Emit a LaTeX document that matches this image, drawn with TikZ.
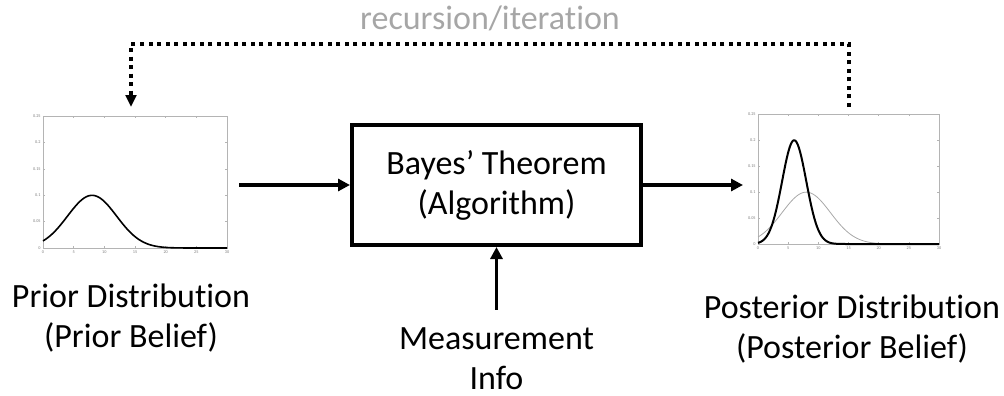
\documentclass[tikz,border=0pt]{standalone}
\usepackage{fontspec}
\setmainfont{Carlito}[Ligatures={NoCommon}]
\usetikzlibrary{arrows.meta}
\definecolor{recgray}{HTML}{A6A6A6}
\definecolor{axgray}{HTML}{B4B4B4}
\definecolor{tickgray}{HTML}{7F7F7F}
\definecolor{curvegray}{HTML}{A8A8A8}
\tikzset{
  lbl/.style={font=\fontsize{25.5pt}{30pt}\selectfont, align=center, inner sep=0pt},
  ticklbl/.style={font=\fontsize{3.2pt}{3.6pt}\selectfont, text=tickgray, inner sep=0.6pt},
  arr/.style={line width=2.4pt, -{Triangle[length=9pt,width=9pt]}},
  loopline/.style={line width=3pt, dash pattern=on 3pt off 3.4pt, line cap=butt,
    -{Triangle[length=9pt,width=8pt]}},
  bayesbox/.style={draw, line width=3pt, minimum width=216.75pt, minimum height=90pt,
    font=\fontsize{25.5pt}{30pt}\selectfont, align=center, inner sep=0pt},
  figarea/.style={inner sep=0pt, outer sep=0pt},
  axisframe/.style={axgray, line width=0.4pt},
  axistick/.style={axgray, line width=0.3pt},
}
\newcommand\plotframe[1]{%
  \draw[axisframe] (0,0) rectangle (30,0.25);
  \foreach \t [count=\i] in {0,5,...,30}{%
    \draw[axistick] (\t,0) -- ++(0,1.5pt) (\t,0.25) -- ++(0,-1.5pt);
    \node[ticklbl, anchor=north, yshift=-1pt] (#1x\i) at (\t,0) {\t};}
  \foreach \v [count=\i] in {0,0.05,0.1,0.15,0.2,0.25}{%
    \draw[axistick] (0,\v) -- ++(1.5pt,0) (30,\v) -- ++(-1.5pt,0);
    \node[ticklbl, anchor=east, xshift=-1pt] (#1y\i) at (0,\v) {\v};}
}
\begin{document}
\begin{tikzpicture}[x=0.75pt, y=-0.75pt]
\useasboundingbox (0,0) rectangle (1004,396);

% invisible areas of the two figures
\node[figarea, minimum width=158.25pt, minimum height=109.5pt] (priorfig) at (133.5,185) {};
\node[figarea, minimum width=151.5pt, minimum height=109.5pt] (postfig) at (844,185) {};

% prior plot
\begin{scope}[shift={(43,248)}, x=4.6pt, y=396pt]
  \plotframe{pr}
  \draw[line width=1.2pt, line join=round] plot[domain=0:24, samples=120]
    (\x,{exp(-(\x-8)*(\x-8)/32)/(4*sqrt(2*pi))}) -- (30,0);
\end{scope}

% posterior plot
\begin{scope}[shift={(758,244)}, x=4.525pt, y=390pt]
  \plotframe{po}
  \draw[curvegray, line width=0.6pt] plot[domain=0:24, samples=120]
    (\x,{exp(-(\x-8)*(\x-8)/32)/(4*sqrt(2*pi))}) -- (30,0);
  \draw[line width=1.5pt, line join=round] plot[domain=0:16, samples=140]
    (\x,{exp(-(\x-6)*(\x-6)/8)/(2*sqrt(2*pi))}) -- (30,0);
\end{scope}

% central box
\node[bayesbox] (bayes) at (496.5,185) {Bayes’ Theorem\\(Algorithm)};

% labels (base anchor = baseline of the last line)
\node[lbl, anchor=base] (priorlbl) at (131,347) {Prior Distribution\\(Prior Belief)};
\node[lbl, anchor=base] (postlbl) at (852,358) {Posterior Distribution\\(Posterior Belief)};
\node[lbl, anchor=base, inner ysep=13pt] (meas) at (496.5,389) {Measurement\\Info};
\node[lbl, anchor=base, text=recgray] (rec) at (490,30) {recursion/iteration};

% connectors
\draw[arr] (priorfig.east) -- (bayes.west);
\draw[arr] (bayes.east) -- (postfig.west);
\draw[arr] (meas.north) -- (meas.north |- bayes.south);

\coordinate (loopA) at (849,107);
\coordinate (loopB) at (131,107);
\draw[loopline] (loopA) -- ++(0,-63) -| (loopB);
\end{tikzpicture}
\end{document}
